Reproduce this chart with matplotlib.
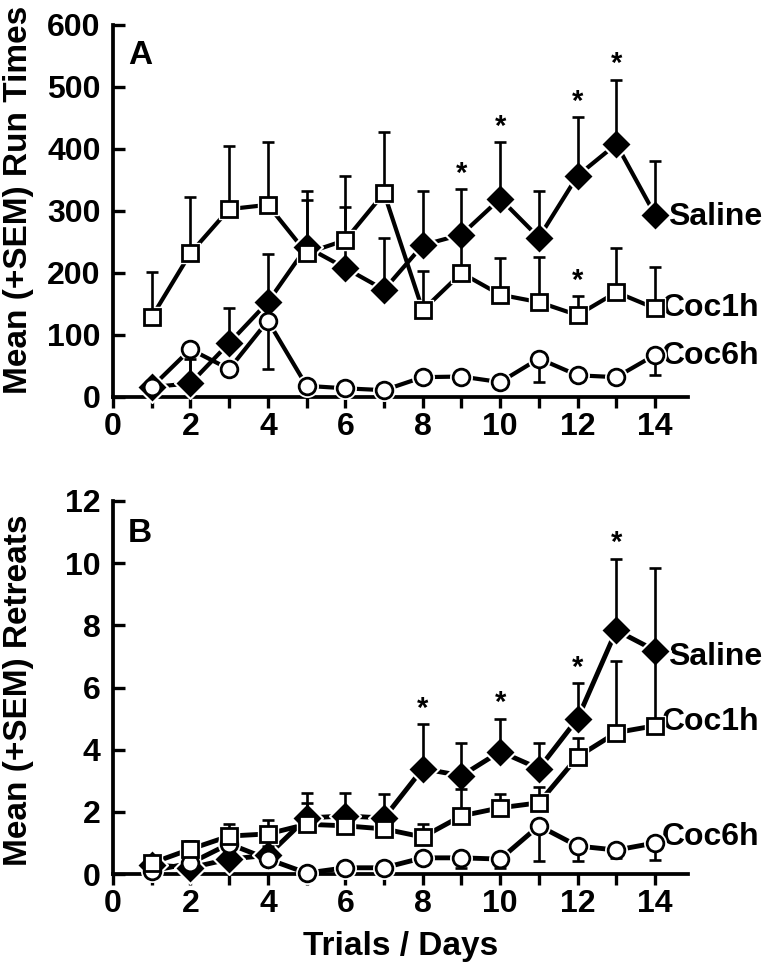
import matplotlib
matplotlib.use("Agg")
import matplotlib.pyplot as plt
import numpy as np

plt.rcParams["font.family"] = ["Liberation Sans", "DejaVu Sans"]
plt.rcParams["font.weight"] = "bold"

days = np.arange(1, 15)

# Panel A - run times (mean, SEM)
saline_run = [16, 22, 87, 153, 242, 208, 173, 245, 262, 320, 257, 357, 408, 294]
saline_run_sem = [8, 40, 56, 77, 76, 98, 83, 87, 73, 91, 76, 94, 104, 86]
coc1h_run = [129, 232, 303, 310, 232, 253, 329, 140, 200, 165, 153, 132, 169, 143]
coc1h_run_sem = [73, 91, 102, 101, 100, 104, 98, 63, 55, 59, 73, 31, 71, 67]
coc6h_run = [16, 77, 45, 123, 18, 14, 11, 32, 33, 24, 62, 35, 32, 68]
coc6h_run_sem = [6, 55, 8, 78, 3, 7, 3, 3, 7, 4, 38, 8, 4, 33]
stars_run = {"saline": [9, 10, 12, 13], "coc1h": [12]}

# Panel B - retreats (mean, SEM)
saline_ret = [0.3, 0.2, 0.48, 0.6, 1.8, 1.87, 1.8, 3.39, 3.16, 3.94, 3.39, 5.0, 7.84, 7.19]
saline_ret_sem = [0.1, 0.1, 0.2, 0.3, 0.81, 0.74, 0.78, 1.42, 1.07, 1.06, 0.84, 1.13, 2.31, 2.65]
coc1h_ret = [0.35, 0.8, 1.22, 1.29, 1.6, 1.55, 1.45, 1.19, 1.87, 2.13, 2.29, 3.77, 4.55, 4.77]
coc1h_ret_sem = [0.05, 0.26, 0.4, 0.45, 0.69, 0.3, 0.3, 0.41, 0.87, 0.45, 0.5, 0.6, 2.29, 2.4]
coc6h_ret = [0.1, 0.35, 0.97, 0.48, 0.03, 0.2, 0.2, 0.52, 0.52, 0.48, 1.55, 0.9, 0.77, 1.0]
coc6h_ret_sem = [0.05, 0.1, 0.2, 0.2, 0.0, 0.05, 0.05, 0.1, 0.32, 0.28, 1.13, 0.48, 0.25, 0.55]
stars_ret = {"saline": [8, 10, 12, 13]}

fig = plt.figure(figsize=(7.72, 9.73), dpi=100)
axA = fig.add_axes([113/772, 1-397/973, 575/772, 372/973])
axB = fig.add_axes([113/772, 1-874/973, 575/772, 373/973])


def draw_series(ax, y, sem, marker, face, ms, lw, up=True, z=2):
    y = np.array(y)
    sem = np.array(sem)
    if up:
        yerr = [np.zeros_like(sem), sem]
    else:
        yerr = [sem, np.zeros_like(sem)]
    ax.plot(days, y, "-", color="black", lw=lw, zorder=z, clip_on=False)
    # white halo so the lines stop short of the symbols
    ax.plot(days, y, linestyle="none", marker=marker, ms=ms + 3.5, mfc="white",
            mec="white", zorder=z + 3, clip_on=False)
    ax.errorbar(days, y, yerr=yerr, fmt="none", ecolor="black", elinewidth=1.9,
                capsize=4.5, capthick=1.9, zorder=z + 4, clip_on=False)
    ax.plot(days, y, linestyle="none", marker=marker, ms=ms, mfc=face,
            mec="black", mew=2.0, zorder=z + 6, clip_on=False)


def add_stars(ax, y, sem, which, off):
    for d in which:
        i = d - 1
        ax.annotate("*", (d, y[i] + sem[i]), xytext=(0, off), textcoords="offset points",
                    ha="center", va="center", fontsize=21, fontweight="bold")


def label(ax, y, text, dx, dy):
    ax.annotate(text, (14, y[-1]), xytext=(dx, dy), textcoords="offset points",
                ha="left", va="center", fontsize=23, fontweight="bold", annotation_clip=False)


for ax in (axA, axB):
    ax.spines["top"].set_visible(False)
    ax.spines["right"].set_visible(False)
    ax.spines["left"].set_linewidth(2.7)
    ax.spines["bottom"].set_linewidth(2.7)
    ax.set_xlim(0, 14.85)
    ax.set_xticks(np.arange(0, 15, 1))
    ax.tick_params(axis="x", direction="out", length=8, width=2.4, pad=3, labelsize=23)
    ax.tick_params(axis="y", direction="in", length=8.5, width=2.4, pad=9, labelsize=23)

# Panel A
axA.set_ylim(0, 600)
axA.set_yticks(np.arange(0, 601, 100))
draw_series(axA, saline_run, saline_run_sem, "D", "black", 12.5, 3.0, True, z=2)
draw_series(axA, coc6h_run, coc6h_run_sem, "o", "white", 12, 3.0, False, z=2.5)
draw_series(axA, coc1h_run, coc1h_run_sem, "s", "white", 11, 3.0, True, z=3)
add_stars(axA, saline_run, saline_run_sem, stars_run["saline"], 11)
add_stars(axA, coc1h_run, coc1h_run_sem, stars_run["coc1h"], 11)
label(axA, saline_run, "Saline", 9, -2)
label(axA, coc1h_run, "Coc1h", 5, 0)
label(axA, coc6h_run, "Coc6h", 5, -1)
axA.set_xticklabels([str(t) if t % 2 == 0 else "" for t in range(15)], fontweight="bold")
axA.set_yticklabels([str(t) for t in range(0, 601, 100)], fontweight="bold")

# Panel B
axB.set_ylim(0, 12)
axB.set_yticks(np.arange(0, 13, 2))
draw_series(axB, saline_ret, saline_ret_sem, "D", "black", 12.5, 3.5, True, z=2)
draw_series(axB, coc6h_ret, coc6h_ret_sem, "o", "white", 12, 3.5, False, z=2.5)
draw_series(axB, coc1h_ret, coc1h_ret_sem, "s", "white", 11, 3.5, True, z=3)
add_stars(axB, saline_ret, saline_ret_sem, stars_ret["saline"], 11)
label(axB, saline_ret, "Saline", 9.5, -5)
label(axB, coc1h_ret, "Coc1h", 5, 3)
label(axB, coc6h_ret, "Coc6h", 5, 4)
axB.set_xticklabels([str(t) if t % 2 == 0 else "" for t in range(15)], fontweight="bold")
axB.set_yticklabels([str(t) for t in range(0, 13, 2)], fontweight="bold")

fig.text(128/772, 1-55/973, "A", fontsize=24, fontweight="bold", ha="left", va="center")
fig.text(128/772, 1-533/973, "B", fontsize=24, fontweight="bold", ha="left", va="center")

fig.text(19/772, 1-200/973, "Mean (+SEM) Run Times", rotation=90, ha="center", va="center",
         fontsize=24, fontweight="bold")
fig.text(19/772, 1-690/973, "Mean (+SEM) Retreats", rotation=90, ha="center", va="center",
         fontsize=24, fontweight="bold")
fig.text(401/772, 1-946/973, "Trials / Days", ha="center", va="center",
         fontsize=24, fontweight="bold")

fig.savefig("out.png", dpi=100)
